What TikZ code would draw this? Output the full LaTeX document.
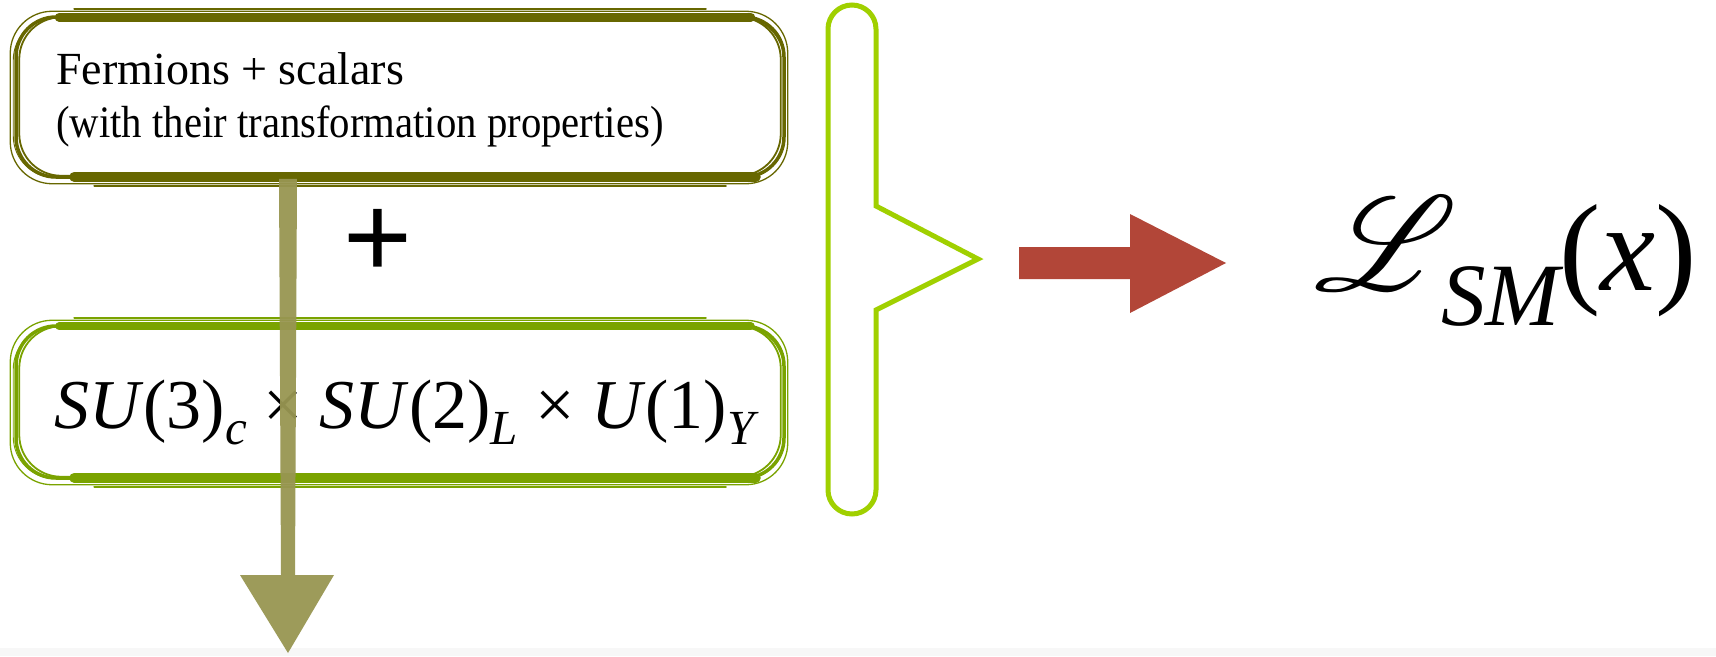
\documentclass[tikz,border=0pt]{standalone}
\usepackage{fontspec}
\setmainfont{Liberation Serif}
\newfontfamily\plusfont{Liberation Sans}
\usepackage{mathrsfs}
\usetikzlibrary{arrows.meta}
\definecolor{topcol}{RGB}{103,103,0}
\definecolor{botcol}{RGB}{122,163,0}
\definecolor{arrcol}{RGB}{152,150,82}
\definecolor{brkcol}{RGB}{160,208,0}
\definecolor{redcol}{RGB}{178,70,56}
\newcommand\lowsub[2][-16pt]{\raisebox{#1}{\fontsize{49}{49}\selectfont\itshape #2}}
\newcommand\tms{\hspace{0.24em}×\hspace{0.24em}}
\tikzset{
  sketchbox/.style={draw=#1, line width=3.5pt, rounded corners=40pt, inner sep=0pt},
  thinstroke/.style 2 args={draw=#1, line width=#2, rounded corners=42pt},
  band/.style 2 args={draw=#1, line width=#2, line cap=round},
  txt/.style={anchor=base west, inner sep=0pt},
}
\begin{document}
\begin{tikzpicture}[x=1pt,y=1pt]
\useasboundingbox (0,0) rectangle (1716,-656);
\fill[white] (0,0) rectangle (1716,-656);
\fill[gray!6] (0,-648) rectangle (1716,-656);

% top box
\node[sketchbox=topcol, minimum width=768pt, minimum height=160pt] (topbox) at (400,-97) {};
\draw[thinstroke={topcol}{1.3pt}] ([shift={(-4pt,4pt)}]topbox.north west) rectangle ([shift={(2pt,-5pt)}]topbox.south east);
\draw[thinstroke={topcol}{1.8pt}] ([shift={(5pt,-2pt)}]topbox.north west) rectangle ([shift={(-5pt,3pt)}]topbox.south east);
\draw[thinstroke={topcol}{0.9pt}] ([shift={(-1pt,-3pt)}]topbox.north west) rectangle ([shift={(-2pt,1pt)}]topbox.south east);
\draw[band={topcol}{9pt}] ([shift={(45pt,-2pt)}]topbox.north west) -- ([shift={(-35pt,-2pt)}]topbox.north east);
\draw[band={topcol}{2pt}] ([shift={(60pt,6pt)}]topbox.north west) -- ([shift={(-80pt,6pt)}]topbox.north east);
\draw[band={topcol}{10pt}] ([shift={(60pt,2pt)}]topbox.south west) -- ([shift={(-30pt,2pt)}]topbox.south east);
\draw[band={topcol}{2pt}] ([shift={(80pt,-7pt)}]topbox.south west) -- ([shift={(-60pt,-7pt)}]topbox.south east);
\node[txt] (ferm) at (56,-84) {\fontsize{46}{46}\selectfont Fermions + scalars};
\node[txt] (prop) at (56,-137) {\scalebox{0.905}[1]{\fontsize{45}{45}\selectfont (with their transformation properties)}};

% plus
\node (plus) at (378,-243) {\plusfont\fontsize{118}{118}\selectfont +};

% bottom box
\node[sketchbox=botcol, minimum width=768pt, minimum height=152pt] (botbox) at (400,-402) {};
\draw[thinstroke={botcol}{1.3pt}] ([shift={(-4pt,4pt)}]botbox.north west) rectangle ([shift={(2pt,-5pt)}]botbox.south east);
\draw[thinstroke={botcol}{1.8pt}] ([shift={(5pt,-2pt)}]botbox.north west) rectangle ([shift={(-5pt,3pt)}]botbox.south east);
\draw[thinstroke={botcol}{0.9pt}] ([shift={(-1pt,-3pt)}]botbox.north west) rectangle ([shift={(-2pt,1pt)}]botbox.south east);
\draw[band={botcol}{8pt}] ([shift={(45pt,-2pt)}]botbox.north west) -- ([shift={(-35pt,-2pt)}]botbox.north east);
\draw[band={botcol}{2pt}] ([shift={(60pt,6pt)}]botbox.north west) -- ([shift={(-80pt,6pt)}]botbox.north east);
\draw[band={botcol}{10pt}] ([shift={(60pt,2pt)}]botbox.south west) -- ([shift={(-30pt,2pt)}]botbox.south east);
\draw[band={botcol}{2pt}] ([shift={(80pt,-7pt)}]botbox.south west) -- ([shift={(-60pt,-7pt)}]botbox.south east);
\node[txt] (grp) at (54,-428) {\fontsize{70}{70}\selectfont \textit{SU}(3)\lowsub{c}\tms\textit{SU}(2)\lowsub{L}\tms\textit{U}(1)\lowsub{Y}};

% down arrow (filled block arrow from the top box)
\coordinate (arrend) at (288,-653);
\coordinate (arrstart) at (topbox.south -| arrend);
\fill[arrcol, opacity=0.95]
  ([xshift=-9pt]arrstart) -- ([xshift=-7pt,yshift=78pt]arrend) -- ([xshift=-48pt,yshift=78pt]arrend)
  -- (arrend) -- ([xshift=46pt,yshift=78pt]arrend) -- ([xshift=7pt,yshift=78pt]arrend)
  -- ([xshift=9pt]arrstart) -- cycle;

% bracket
\coordinate (brtip) at (978,-259);
\draw[brkcol, line width=5pt, line join=miter]
  (876,-206) -- (876,-29) arc[start angle=0, end angle=180, radius=24pt]
  -- (828,-490) arc[start angle=180, end angle=360, radius=24pt]
  -- (876,-310) -- (brtip) -- cycle;

% red arrow
\fill[redcol] (1019,-247) -- (1130,-247) -- (1130,-214) -- (1226,-263) -- (1130,-313) -- (1130,-279) -- (1019,-279) -- cycle;

% Lagrangian
\node[txt] (lag) at (1314,-290) {\scalebox{13.4}{\fontsize{10}{12}\selectfont$\mathscr{L}$}\hspace{-16pt}\raisebox{-35pt}{\fontsize{89}{89}\selectfont\itshape SM}\fontsize{124}{124}\selectfont(\textit{x})};
\end{tikzpicture}
\end{document}
